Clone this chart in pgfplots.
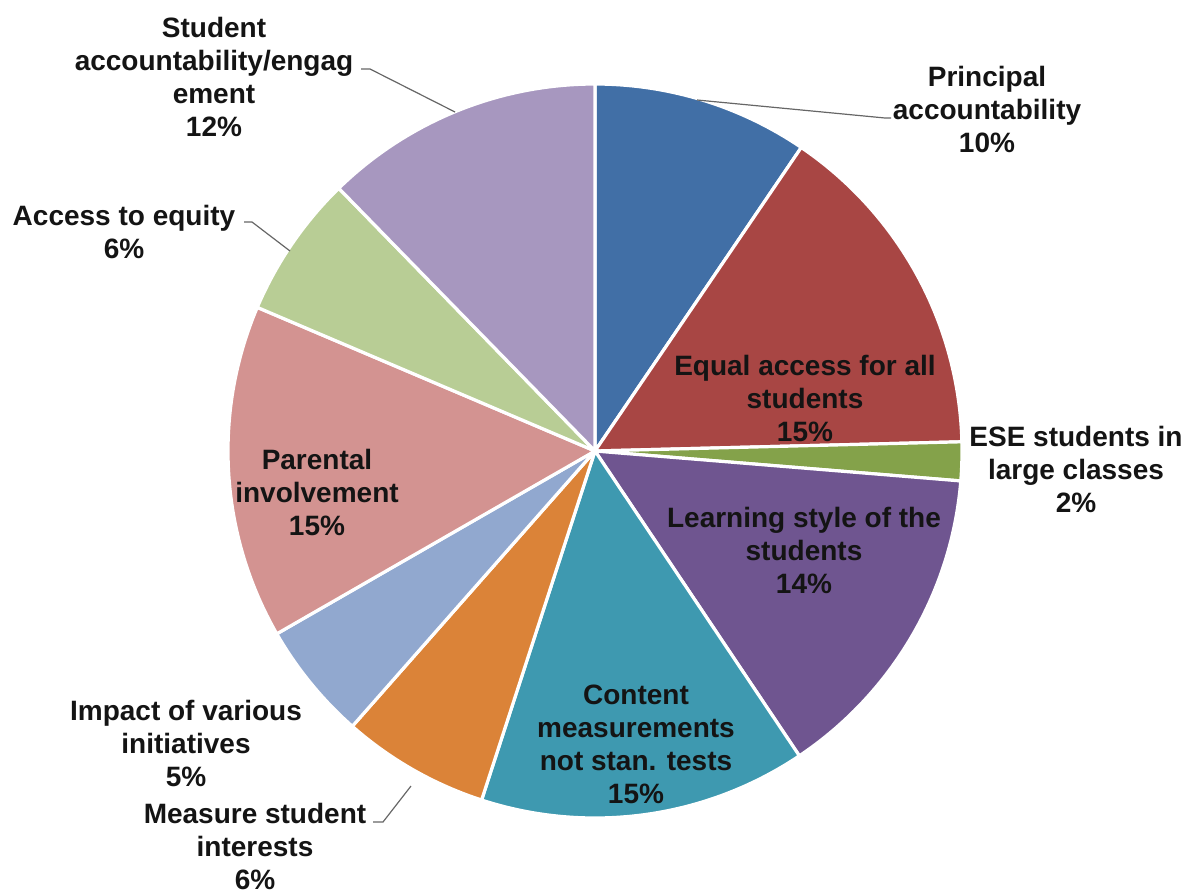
\documentclass[border=0pt]{standalone}
\usepackage{pgfplots}
\pgfplotsset{compat=1.18}
\usepackage{fontspec}
\setmainfont{Liberation Sans}
\definecolor{cPrin}{HTML}{416FA6}
\definecolor{cEqual}{HTML}{A84644}
\definecolor{cESE}{HTML}{84A24A}
\definecolor{cLearn}{HTML}{6F5590}
\definecolor{cContent}{HTML}{3E99B0}
\definecolor{cMeasure}{HTML}{DB8338}
\definecolor{cImpact}{HTML}{91A8CF}
\definecolor{cParent}{HTML}{D39391}
\definecolor{cAccess}{HTML}{B8CD95}
\definecolor{cStudent}{HTML}{A797BF}
\tikzset{lbl/.style={font=\bfseries\fontsize{14}{16.5}\selectfont, align=center, text=black!92, inner sep=0pt}}
% slice: cumulative percent start, end, colour
\newcommand{\slice}[3]{%
  \addplot[fill=#3, draw=white, line width=1.6pt, line join=round, domain=#1:#2, samples=80]
    ({595+367*sin(3.6*x)},{451-367*cos(3.6*x)}) -- (axis cs:595,451) -- cycle;}
\begin{document}
\begin{tikzpicture}
\begin{axis}[
  scale only axis, width=597pt, height=447pt,
  xmin=0, xmax=1194, ymin=0, ymax=894, y dir=reverse,
  hide axis, clip=false,
]
% Shares (percent): Principal 9.5, Equal 15.1, ESE 1.7, Learning 14.3, Content 14.4,
% Measure 6.5, Impact 5.2, Parental 14.7, Access 6.3, Student 12.3
\slice{0}{9.5}{cPrin}
\slice{9.5}{24.6}{cEqual}
\slice{24.6}{26.3}{cESE}
\slice{26.3}{40.6}{cLearn}
\slice{40.6}{55.0}{cContent}
\slice{55.0}{61.5}{cMeasure}
\slice{61.5}{66.7}{cImpact}
\slice{66.7}{81.4}{cParent}
\slice{81.4}{87.7}{cAccess}
\slice{87.7}{100}{cStudent}
% leader lines
\addplot[draw=gray!80!black, line width=0.6pt] coordinates {(361,69) (370,69) (455,112)};
\addplot[draw=gray!80!black, line width=0.6pt] coordinates {(697,100) (885,118) (891,118)};
\addplot[draw=gray!80!black, line width=0.6pt] coordinates {(244,222) (252,222) (290,251)};
\addplot[draw=gray!80!black, line width=0.6pt] coordinates {(373,822) (383,822) (411,786)};
% labels
\node[lbl] at (axis cs:214,77) {Student\\accountability/engag\\ement\\12\%};
\node[lbl] at (axis cs:987,109) {Principal\\accountability\\10\%};
\node[lbl] at (axis cs:124,232) {Access to equity\\6\%};
\node[lbl] at (axis cs:805,398) {Equal access for all\\students\\15\%};
\node[lbl] at (axis cs:1076,469) {ESE students in\\large classes\\2\%};
\node[lbl] at (axis cs:804,550) {Learning style of the\\students\\14\%};
\node[lbl] at (axis cs:636,744) {Content\\measurements\\not stan. tests\\15\%};
\node[lbl] at (axis cs:317,492) {Parental\\involvement\\15\%};
\node[lbl] at (axis cs:186,743) {Impact of various\\initiatives\\5\%};
\node[lbl] at (axis cs:255,846) {Measure student\\interests\\6\%};
\end{axis}
\pgfresetboundingbox
\path (current axis.south west) rectangle (current axis.north east);
\end{tikzpicture}
\end{document}
